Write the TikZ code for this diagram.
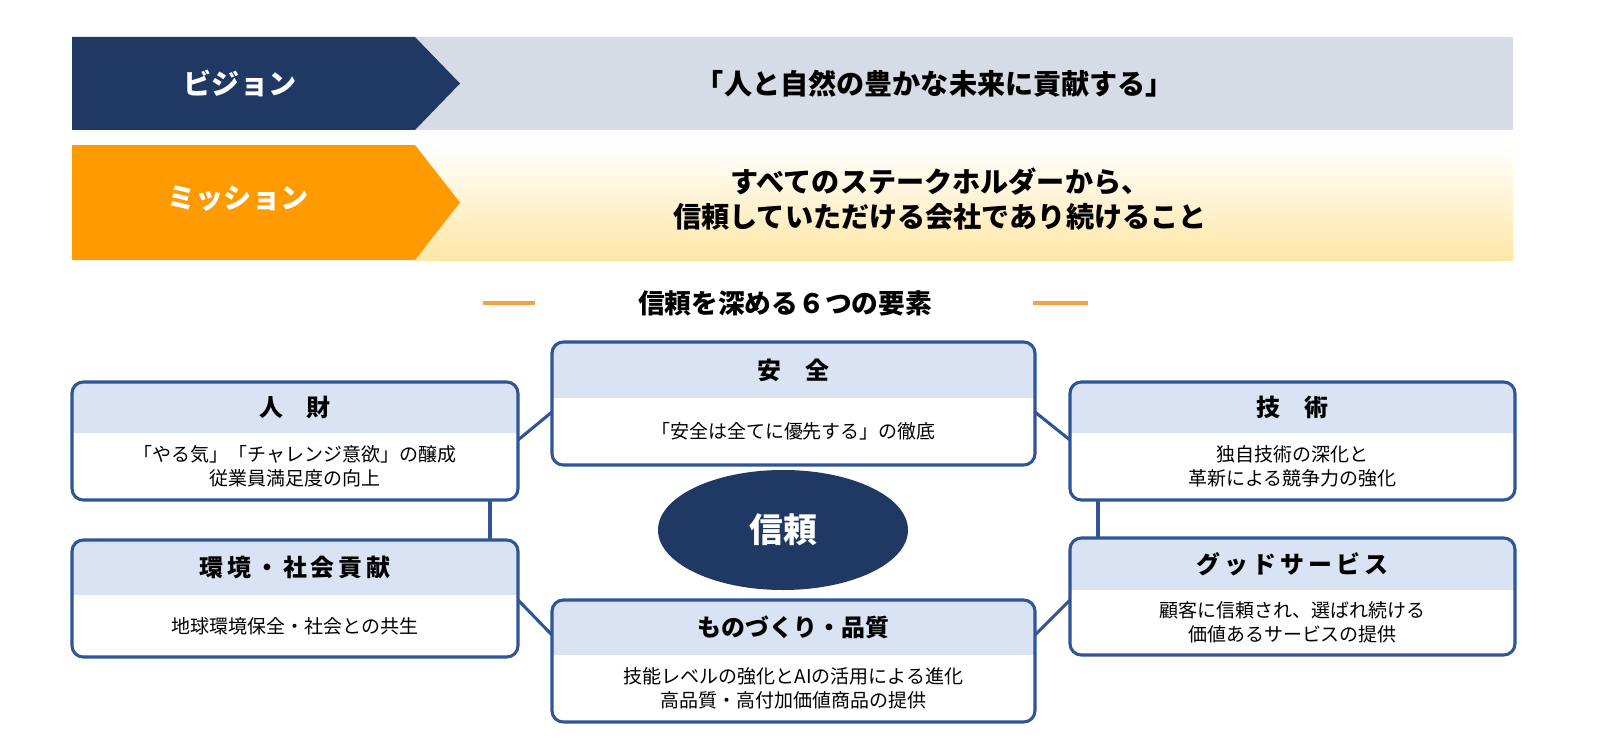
\documentclass[tikz,border=0pt]{standalone}
\usepackage{fontspec}
\setmainfont{Noto Sans CJK JP}
\usetikzlibrary{positioning,shapes.geometric}
\definecolor{navy}{HTML}{203864}
\definecolor{orng}{HTML}{FF9A00}
\definecolor{bargray}{HTML}{D6DCE5}
\definecolor{boxblue}{HTML}{2F5597}
\definecolor{headblue}{HTML}{DAE3F3}
\definecolor{dashorange}{HTML}{F4A045}
\newcommand{\elembox}[8]{%
  \begin{scope}
    \clip[rounded corners=8pt] (#2,#3) rectangle (#4,#5);
    \fill[white] (#2,#3) rectangle (#4,#5);
    \fill[headblue] (#2,#3) rectangle (#4,#6);
  \end{scope}
  \draw[boxline] (#2,#3) rectangle (#4,#5);
  \node[anchor=center,inner sep=0] (#1) at ({(#2+#4)/2},{(#3+#5)/2}) {};
  \node[headtext] at ({(#2+#4)/2},{(#3+#6)/2}) {#7};
  \node[bodytext] at ({(#2+#4)/2},{(#6+#5)/2}) {#8};
}
\begin{document}
\begin{tikzpicture}[x=0.025cm,y=-0.025cm,
  boxline/.style={draw=boxblue,line width=2.2pt,rounded corners=8pt},
  link/.style={draw=boxblue,line width=2.2pt},
  headtext/.style={font=\fontsize{17}{20}\selectfont\bfseries},
  bodytext/.style={font=\fontsize{13.5}{17}\selectfont,align=center},
  bartext/.style={font=\fontsize{20}{25}\selectfont\bfseries,align=center}]
\useasboundingbox (0,0) rectangle (1600,749);

% vision
\fill[bargray] (415,37) rectangle (1513,130);
\fill[navy] (72,37) -- (415,37) -- (460,83.5) -- (415,130) -- (72,130) -- cycle;
\node[bartext,text=white] (vlabel) at (240,83.5) {ビジョン};
\node[bartext] (vtext) at (935,83.5) {「人と自然の豊かな未来に貢献する」};

% mission
\shade[top color=white,bottom color=yellow!45!orange!35] (415,145) rectangle (1513,260);
\fill[orng] (72,145) -- (415,145) -- (460,202.5) -- (415,260) -- (72,260) -- cycle;
\node[bartext,text=white] (mlabel) at (238,199) {ミッション};
\node[bartext] (mtext) at (940,199) {すべてのステークホルダーから、\\信頼していただける会社であり続けること};

% title
\node[bartext,font=\fontsize{19}{24}\selectfont\bfseries] (title) at (785,303) {信頼を深める６つの要素};
\draw[dashorange,line width=2.5pt] (483,303) -- (535,303);
\draw[dashorange,line width=2.5pt] (1033,303) -- (1088,303);

% connectors
\draw[link] (518,440) -- (552,412);
\draw[link] (1035,412) -- (1070,440);
\draw[link] (490,500) -- (490,540);
\draw[link] (1098,500) -- (1098,538);
\draw[link] (518,600) -- (552,635);
\draw[link] (1035,635) -- (1070,600);

% elements
\elembox{anzen}{552}{342}{1035}{465}{398}{安　全}{「安全は全てに優先する」の徹底}
\elembox{jinzai}{72}{382}{518}{500}{433}{人　財}{「やる気」「チャレンジ意欲」の醸成\\従業員満足度の向上}
\elembox{gijutsu}{1070}{382}{1515}{500}{433}{技　術}{独自技術の深化と\\革新による競争力の強化}
\elembox{kankyo}{72}{540}{518}{657}{595}{環\,境\,・\,社\,会\,貢\,献}{地球環境保全・社会との共生}
\elembox{service}{1070}{538}{1515}{655}{590}{グ\,ッ\,ド\,サ\,ー\,ビ\,ス}{顧客に信頼され、選ばれ続ける\\価値あるサービスの提供}
\elembox{monozukuri}{552}{600}{1035}{722}{655}{ものづくり・品質}{技能レベルの強化とAIの活用による進化\\高品質・高付加価値商品の提供}

% center
\node[ellipse,fill=navy,minimum width=250*0.025cm,minimum height=120*0.025cm,
  text=white,font=\fontsize{24}{28}\selectfont\bfseries] (shinrai) at (783,530) {信頼};
\end{tikzpicture}
\end{document}
